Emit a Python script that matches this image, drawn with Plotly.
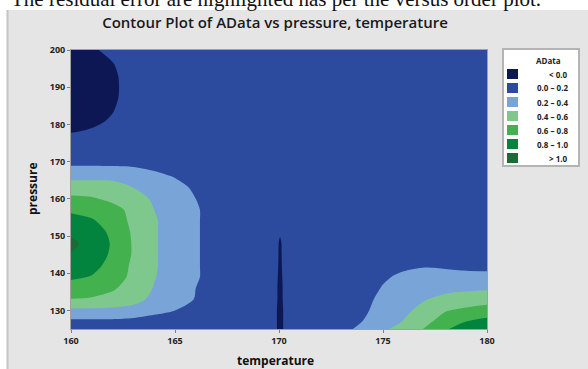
import plotly.graph_objects as go

# ---------------- data ----------------
temperature = [160, 161, 162, 163, 164, 165, 166, 167, 168,
               169.7, 170.05, 170.4,
               172, 173, 174, 175, 176, 177, 178, 179, 180]
pressure = [125, 127, 130, 133, 136, 139, 142, 145, 148, 151, 154, 157, 160,
            163, 166, 169, 172, 175, 178, 181, 184, 187, 190, 193, 196, 200]

adata = [
    # 125
    [0.14, 0.14, 0.14, 0.13, 0.09, 0.08, 0.08, 0.08, 0.08, 0.08, -0.06, 0.08, 0.08, 0.14, 0.25, 0.36, 0.49, 0.61, 0.78, 0.89, 0.96],
    # 127
    [0.16, 0.16, 0.16, 0.14, 0.11, 0.08, 0.08, 0.08, 0.08, 0.08, -0.06, 0.08, 0.08, 0.12, 0.20, 0.30, 0.41, 0.55, 0.68, 0.80, 0.86],
    # 130
    [0.36, 0.36, 0.35, 0.33, 0.26, 0.20, 0.13, 0.09, 0.08, 0.08, -0.06, 0.08, 0.08, 0.10, 0.17, 0.26, 0.36, 0.46, 0.59, 0.64, 0.68],
    # 133
    [0.595, 0.58, 0.55, 0.47, 0.35, 0.29, 0.19, 0.15, 0.11, 0.09, -0.05, 0.09, 0.08, 0.10, 0.15, 0.24, 0.31, 0.39, 0.45, 0.49, 0.52],
    # 136
    [0.72, 0.69, 0.62, 0.53, 0.39, 0.30, 0.20, 0.16, 0.12, 0.09, -0.05, 0.09, 0.08, 0.09, 0.13, 0.21, 0.27, 0.32, 0.35, 0.36, 0.37],
    # 139
    [0.83, 0.79, 0.70, 0.55, 0.41, 0.31, 0.21, 0.16, 0.12, 0.09, -0.04, 0.09, 0.08, 0.08, 0.11, 0.18, 0.23, 0.25, 0.25, 0.25, 0.25],
    # 142
    [0.91, 0.855, 0.74, 0.56, 0.42, 0.31, 0.21, 0.16, 0.12, 0.09, -0.03, 0.09, 0.08, 0.08, 0.09, 0.12, 0.17, 0.19, 0.18, 0.16, 0.15],
    # 145
    [0.99, 0.90, 0.77, 0.58, 0.42, 0.31, 0.21, 0.16, 0.12, 0.09, -0.025, 0.09, 0.09, 0.09, 0.09, 0.10, 0.10, 0.10, 0.10, 0.10, 0.10],
    # 148
    [1.05, 0.92, 0.78, 0.58, 0.42, 0.31, 0.21, 0.16, 0.12, 0.09, -0.02, 0.09, 0.10, 0.10, 0.10, 0.10, 0.10, 0.10, 0.10, 0.10, 0.10],
    # 151
    [0.96, 0.89, 0.76, 0.57, 0.42, 0.31, 0.21, 0.16, 0.12, 0.09, 0.015, 0.09, 0.10, 0.10, 0.10, 0.10, 0.10, 0.10, 0.10, 0.10, 0.10],
    # 154
    [0.87, 0.82, 0.72, 0.55, 0.42, 0.31, 0.21, 0.16, 0.12, 0.10, 0.10, 0.10, 0.10, 0.10, 0.10, 0.10, 0.10, 0.10, 0.10, 0.10, 0.10],
    # 157
    [0.77, 0.74, 0.66, 0.55, 0.40, 0.31, 0.21, 0.16, 0.12, 0.10, 0.10, 0.10, 0.10, 0.10, 0.10, 0.10, 0.10, 0.10, 0.10, 0.10, 0.10],
    # 160
    [0.64, 0.62, 0.56, 0.49, 0.37, 0.29, 0.20, 0.15, 0.11, 0.10, 0.10, 0.10, 0.10, 0.10, 0.10, 0.10, 0.10, 0.10, 0.10, 0.10, 0.10],
    # 163
    [0.50, 0.50, 0.48, 0.40, 0.34, 0.26, 0.17, 0.13, 0.09, 0.10, 0.10, 0.10, 0.10, 0.10, 0.10, 0.10, 0.10, 0.10, 0.10, 0.10, 0.10],
    # 166
    [0.35, 0.35, 0.35, 0.32, 0.26, 0.19, 0.12, 0.09, 0.08, 0.10, 0.10, 0.10, 0.10, 0.10, 0.10, 0.10, 0.10, 0.10, 0.10, 0.10, 0.10],
    # 169
    [0.195, 0.195, 0.19, 0.18, 0.14, 0.10, 0.08, 0.08, 0.08, 0.10, 0.10, 0.10, 0.10, 0.10, 0.10, 0.10, 0.10, 0.10, 0.10, 0.10, 0.10],
    # 172
    [0.13, 0.13, 0.13, 0.12, 0.10, 0.09, 0.08, 0.08, 0.08, 0.10, 0.10, 0.10, 0.10, 0.10, 0.10, 0.10, 0.10, 0.10, 0.10, 0.10, 0.10],
    # 175
    [0.06, 0.06, 0.07, 0.08, 0.08, 0.08, 0.08, 0.08, 0.08, 0.10, 0.10, 0.10, 0.10, 0.10, 0.10, 0.10, 0.10, 0.10, 0.10, 0.10, 0.10],
    # 178
    [-0.005, 0.01, 0.04, 0.06, 0.08, 0.08, 0.08, 0.08, 0.08, 0.10, 0.10, 0.10, 0.10, 0.10, 0.10, 0.10, 0.10, 0.10, 0.10, 0.10, 0.10],
    # 181
    [-0.04, -0.02, 0.01, 0.05, 0.07, 0.08, 0.08, 0.08, 0.08, 0.10, 0.10, 0.10, 0.10, 0.10, 0.10, 0.10, 0.10, 0.10, 0.10, 0.10, 0.10],
    # 184
    [-0.07, -0.04, -0.005, 0.045, 0.07, 0.08, 0.08, 0.08, 0.08, 0.10, 0.10, 0.10, 0.10, 0.10, 0.10, 0.10, 0.10, 0.10, 0.10, 0.10, 0.10],
    # 187
    [-0.085, -0.05, -0.015, 0.04, 0.07, 0.08, 0.08, 0.08, 0.08, 0.10, 0.10, 0.10, 0.10, 0.10, 0.10, 0.10, 0.10, 0.10, 0.10, 0.10, 0.10],
    # 190
    [-0.09, -0.055, -0.018, 0.04, 0.07, 0.08, 0.08, 0.08, 0.08, 0.10, 0.10, 0.10, 0.10, 0.10, 0.10, 0.10, 0.10, 0.10, 0.10, 0.10, 0.10],
    # 193
    [-0.08, -0.05, -0.015, 0.04, 0.07, 0.08, 0.08, 0.08, 0.08, 0.10, 0.10, 0.10, 0.10, 0.10, 0.10, 0.10, 0.10, 0.10, 0.10, 0.10, 0.10],
    # 196
    [-0.06, -0.035, -0.005, 0.045, 0.07, 0.08, 0.08, 0.08, 0.08, 0.10, 0.10, 0.10, 0.10, 0.10, 0.10, 0.10, 0.10, 0.10, 0.10, 0.10, 0.10],
    # 200
    [-0.03, -0.01, 0.02, 0.05, 0.07, 0.08, 0.08, 0.08, 0.08, 0.10, 0.10, 0.10, 0.10, 0.10, 0.10, 0.10, 0.10, 0.10, 0.10, 0.10, 0.10],
]

x_ticks = [160, 165, 170, 175, 180]
y_ticks = [130, 140, 150, 160, 170, 180, 190, 200]

legend_labels = ["< 0.0", "0.0 \u2013 0.2", "0.2 \u2013 0.4", "0.4 \u2013 0.6",
                 "0.6 \u2013 0.8", "0.8 \u2013 1.0", "> 1.0"]
band_colors = ["#0d1754", "#2c4a9e", "#78a4d8", "#7ec88d",
               "#44b14f", "#02843f", "#1c6a36"]

title_text = "Contour Plot of AData vs pressure, temperature"
caption_text = "The residual error are highlighted has per the versus order plot."

# ---------------- figure ----------------
W, H = 588, 369
L, R, T, B = 71, 101, 50, 40
PW, PH = W - L - R, H - T - B


def px(x):
    return (x - L) / PW


def py(y):
    return (H - B - y) / PH


n = len(band_colors)
colorscale = [[i / (n - 1), c] for i, c in enumerate(band_colors)]

fig = go.Figure()
fig.add_trace(go.Contour(
    x=temperature, y=pressure, z=adata,
    autocontour=False,
    contours=dict(start=0.0, end=1.0, size=0.2, coloring="fill", showlines=False),
    colorscale=colorscale,
    line=dict(width=0, smoothing=0.8),
    showscale=False,
    hoverinfo="skip",
))

shapes = []
# grey panel behind the chart
shapes.append(dict(type="rect", xref="paper", yref="paper", layer="below",
                   x0=px(7), x1=px(W + 5), y0=py(H + 5), y1=py(10),
                   fillcolor="#e5e5e5", line=dict(width=0)))
shapes.append(dict(type="line", xref="paper", yref="paper", layer="below",
                   x0=px(7.5), x1=px(7.5), y0=py(H + 5), y1=py(10),
                   line=dict(color="#c4c4c4", width=2)))
# legend box
shapes.append(dict(type="rect", xref="paper", yref="paper",
                   x0=px(503), x1=px(579), y0=py(166), y1=py(49),
                   fillcolor="white", line=dict(color="#b4b4b4", width=2)))

annotations = []
annotations.append(dict(xref="paper", yref="paper", x=px(548), y=py(60),
                        text="<b>AData</b>", showarrow=False,
                        font=dict(family="Open Sans", size=8, color="#222"),
                        xanchor="center", yanchor="middle"))
for i, (lab, col) in enumerate(zip(legend_labels, band_colors)):
    cy = 74 + 14 * i
    shapes.append(dict(type="rect", xref="paper", yref="paper",
                       x0=px(507), x1=px(518), y0=py(cy + 5), y1=py(cy - 5),
                       fillcolor=col, line=dict(width=0)))
    annotations.append(dict(xref="paper", yref="paper", x=px(570), y=py(cy),
                            text=lab, showarrow=False,
                            font=dict(family="Open Sans", size=8, color="#222", weight="bold"),
                            xanchor="right", yanchor="middle"))

# axis titles
annotations.append(dict(xref="paper", yref="paper", x=px(275), y=py(360),
                        text="temperature", showarrow=False,
                        font=dict(family="Open Sans", size=12, color="#111", weight="bold"),
                        xanchor="center", yanchor="middle"))
annotations.append(dict(xref="paper", yref="paper", x=px(32), y=py(189),
                        text="pressure", showarrow=False, textangle=-90,
                        font=dict(family="Open Sans", size=12, color="#111", weight="bold"),
                        xanchor="center", yanchor="middle"))
# clipped caption at the very top
annotations.append(dict(xref="paper", yref="paper", x=px(9), y=py(-1),
                        text=caption_text, showarrow=False,
                        font=dict(family="Liberation Serif", size=21, color="#111"),
                        xanchor="left", yanchor="middle"))

axis_common = dict(showgrid=False, zeroline=False, showline=True, mirror=True,
                   linecolor="#a0a0a0", linewidth=1, ticks="outside", ticklen=3,
                   tickcolor="#808080",
                   tickfont=dict(family="Open Sans", size=9, color="#222", weight="bold"))

fig.update_layout(
    width=W, height=H,
    margin=dict(l=L, r=R, t=T, b=B, pad=0),
    paper_bgcolor="white", plot_bgcolor="white",
    title=dict(text=title_text, x=275 / W, xref="container", xanchor="center",
               y=1 - 23 / H, yref="container", yanchor="middle",
               font=dict(family="Open Sans", size=15, color="#1a1a1a", weight=600)),
    xaxis=dict(range=[160, 180], tickvals=x_ticks, **axis_common),
    yaxis=dict(range=[125, 200], tickvals=y_ticks, **axis_common),
    shapes=shapes, annotations=annotations,
    showlegend=False,
)

fig.write_html("out.html",
               config={"displayModeBar": False},
               post_script="document.body.style.margin='0';document.body.style.overflow='hidden';")
